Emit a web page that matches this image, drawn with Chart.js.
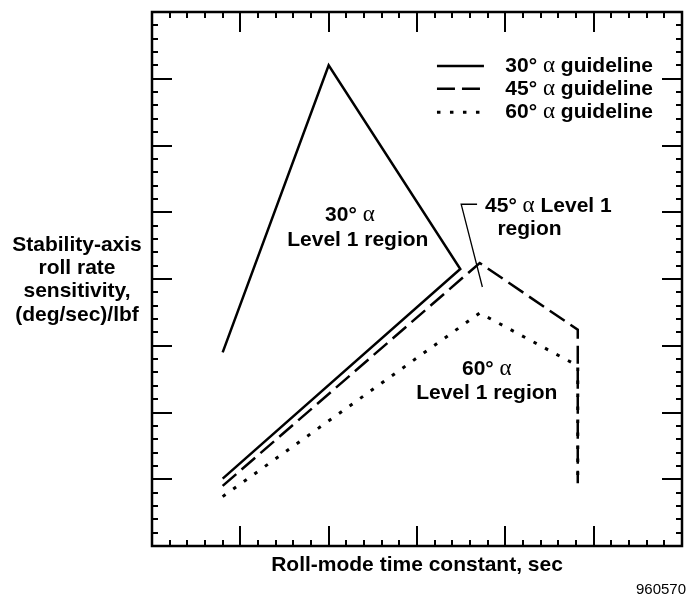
<!DOCTYPE html>
<html>
<head>
<meta charset="utf-8">
<script src="https://cdn.jsdelivr.net/npm/chart.js@4"></script>
<style>
  html, body { margin: 0; padding: 0; background: #fff; }
  #wrap { width: 686px; height: 598px; position: relative; }
</style>
</head>
<body>
<div id="wrap"><canvas id="c" width="686" height="598"></canvas></div>
<script>
// Axis extents (no numeric tick labels are shown, only tick marks)
const xRange = [0, 6];
const yRange = [0, 8];
const majorStep = 1;
const minorStep = 0.2;

// Guideline boundaries: [roll-mode time constant, roll rate sensitivity]
const guideline30 = [[0.8, 2.9], [2.0, 7.2], [3.49, 4.15], [0.8, 1.01]];
const guideline45 = [[0.8, 0.9], [3.71, 4.24], [4.82, 3.24], [4.82, 0.94]];
const guideline60 = [[0.8, 0.74], [3.71, 3.49], [4.82, 2.7], [4.82, 0.94]];
// Leader line from the 45 deg label to its region
const leader45 = [[3.68, 5.12], [3.50, 5.12], [3.74, 3.88]];

const seriesAngles = ['30°', '45°', '60°'];
const seriesLabels = seriesAngles.map(a => a + ' α guideline');

const BOLD = 'bold 21px "Liberation Sans", Arial, sans-serif';
const GREEK = '23px "Liberation Serif", "Times New Roman", serif';

const toPts = arr => arr.map(([x, y]) => ({ x, y }));

function lineSet(label, pts, dash, width) {
  return {
    label, data: toPts(pts), showLine: true, borderColor: '#000',
    backgroundColor: '#000', borderWidth: width, borderDash: dash,
    pointRadius: 0, fill: false, tension: 0, borderCapStyle: 'butt',
    borderJoinStyle: 'miter'
  };
}

// Text with a Greek alpha set in a lighter serif face
function richParts(str) {
  const parts = [];
  str.split(/(α)/).forEach(s => {
    if (!s) return;
    parts.push({ t: s, f: s === 'α' ? GREEK : BOLD });
  });
  return parts;
}
function drawRich(ctx, str, x, y, align) {
  const parts = richParts(str);
  let w = 0;
  parts.forEach(p => { ctx.font = p.f; p.w = ctx.measureText(p.t).width; w += p.w; });
  let cx = align === 'center' ? x - w / 2 : (align === 'right' ? x - w : x);
  ctx.textAlign = 'left';
  ctx.textBaseline = 'middle';
  parts.forEach(p => { ctx.font = p.f; ctx.fillText(p.t, cx, y); cx += p.w; });
}

// In-plot region labels, anchored in data units
const regionLabels = [
  { t: '30° α', x: 2.24, y: 4.96, a: 'center' },
  { t: 'Level 1 region', x: 2.33, y: 4.58, a: 'center' },
  { t: '45° α Level 1', x: 3.77, y: 5.09, a: 'left' },
  { t: 'region', x: 3.91, y: 4.75, a: 'left' },
  { t: '60° α', x: 3.79, y: 2.65, a: 'center' },
  { t: 'Level 1 region', x: 3.79, y: 2.29, a: 'center' }
];
const legendRows = [7.19, 6.85, 6.50];
const yTitle = ['Stability-axis', 'roll rate', 'sensitivity,', '(deg/sec)/lbf'];
const xTitle = 'Roll-mode time constant, sec';
const figNumber = '960570';

const framePlugin = {
  id: 'frameTicks',
  afterDatasetsDraw(chart) {
    const { ctx, chartArea: a, scales } = chart;
    const sx = scales.x, sy = scales.y;
    ctx.save();
    ctx.strokeStyle = '#000';
    ctx.fillStyle = '#000';
    // frame
    ctx.lineWidth = 2.5;
    ctx.strokeRect(a.left, a.top, a.right - a.left, a.bottom - a.top);
    // inward ticks on all four sides
    ctx.lineWidth = 2;
    const n = Math.round((xRange[1] - xRange[0]) / minorStep);
    for (let i = 1; i < n; i++) {
      const v = xRange[0] + i * minorStep;
      const major = Math.abs(v / majorStep - Math.round(v / majorStep)) < 1e-6;
      const len = major ? 20 : 6;
      const px = Math.round(sx.getPixelForValue(v));
      ctx.beginPath();
      ctx.moveTo(px, a.top); ctx.lineTo(px, a.top + len);
      ctx.moveTo(px, a.bottom); ctx.lineTo(px, a.bottom - len);
      ctx.stroke();
    }
    const m = Math.round((yRange[1] - yRange[0]) / minorStep);
    for (let i = 1; i < m; i++) {
      const v = yRange[0] + i * minorStep;
      const major = Math.abs(v / majorStep - Math.round(v / majorStep)) < 1e-6;
      const len = major ? 20 : 6;
      const py = Math.round(sy.getPixelForValue(v));
      ctx.beginPath();
      ctx.moveTo(a.left, py); ctx.lineTo(a.left + len, py);
      ctx.moveTo(a.right, py); ctx.lineTo(a.right - len, py);
      ctx.stroke();
    }

    // legend built from the line datasets
    chart.data.datasets.slice(0, 3).forEach((ds, i) => {
      const py = sy.getPixelForValue(legendRows[i]);
      ctx.beginPath();
      ctx.lineWidth = ds.borderWidth;
      ctx.setLineDash(ds.borderDash || []);
      ctx.moveTo(sx.getPixelForValue(3.226), py);
      ctx.lineTo(sx.getPixelForValue(3.758), py);
      ctx.stroke();
      ctx.setLineDash([]);
      drawRich(ctx, ds.label, sx.getPixelForValue(4.0), py, 'left');
    });

    // region labels
    regionLabels.forEach(l => {
      drawRich(ctx, l.t, sx.getPixelForValue(l.x), sy.getPixelForValue(l.y), l.a);
    });

    // axis titles
    const yc = (a.top + a.bottom) / 2;
    yTitle.forEach((s, i) => drawRich(ctx, s, 77, yc + 1 + (i - 1.5) * 23.3, 'center'));
    drawRich(ctx, xTitle, (a.left + a.right) / 2, a.bottom + 19, 'center');

    ctx.font = '15px "Liberation Sans", Arial, sans-serif';
    ctx.textAlign = 'right';
    ctx.textBaseline = 'middle';
    ctx.fillText(figNumber, 686, 590);
    ctx.restore();
  }
};

new Chart(document.getElementById('c'), {
  type: 'scatter',
  data: {
    datasets: [
      lineSet(seriesLabels[0], guideline30, [], 2.5),
      lineSet(seriesLabels[1], guideline45, [18, 7], 2.5),
      lineSet(seriesLabels[2], guideline60, [3.5, 9.5], 3),
      lineSet('leader', leader45, [], 1.3)
    ]
  },
  options: {
    responsive: false,
    animation: false,
    events: [],
    layout: { padding: { left: 152, right: 4, top: 12, bottom: 52 } },
    plugins: { legend: { display: false }, tooltip: { enabled: false }, title: { display: false } },
    scales: {
      x: { type: 'linear', min: xRange[0], max: xRange[1], display: false },
      y: { type: 'linear', min: yRange[0], max: yRange[1], display: false }
    }
  },
  plugins: [framePlugin]
});
</script>
</body>
</html>
